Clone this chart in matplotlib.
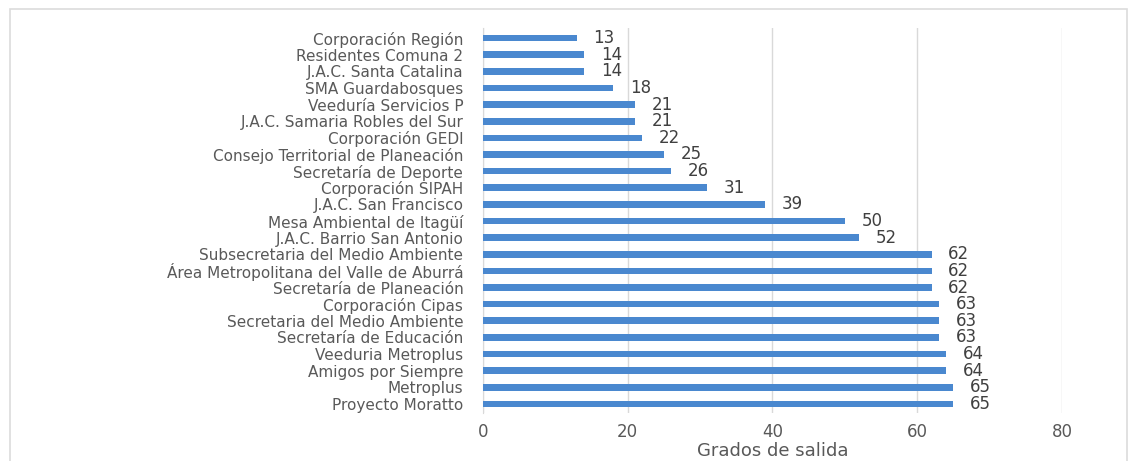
import matplotlib.pyplot as plt
from matplotlib.patches import Rectangle

# datos: grados de salida por actor (orden de arriba hacia abajo)
actores = [
    "Corporación Región",
    "Residentes Comuna 2",
    "J.A.C. Santa Catalina",
    "SMA Guardabosques",
    "Veeduría Servicios P",
    "J.A.C. Samaria Robles del Sur",
    "Corporación GEDI",
    "Consejo Territorial de Planeación",
    "Secretaría de Deporte",
    "Corporación SIPAH",
    "J.A.C. San Francisco",
    "Mesa Ambiental de Itagüí",
    "J.A.C. Barrio San Antonio",
    "Subsecretaria del Medio Ambiente",
    "Área Metropolitana del Valle de Aburrá",
    "Secretaría de Planeación",
    "Corporación Cipas",
    "Secretaria del Medio Ambiente",
    "Secretaría de Educación",
    "Veeduria Metroplus",
    "Amigos por Siempre",
    "Metroplus",
    "Proyecto Moratto",
]
grados = [13, 14, 14, 18, 21, 21, 22, 25, 26, 31, 39, 50, 52,
          62, 62, 62, 63, 63, 63, 64, 64, 65, 65]
x_ticks = [0, 20, 40, 60, 80]

bar_color = "#4a88cf"
text_color = "#595959"
grid_color = "#d9d9d9"

fig = plt.figure(figsize=(11.28, 4.61), dpi=100)
ax = fig.add_axes([0.428, 0.104, 0.5135, 0.835])

pos = list(range(len(actores)))
ax.barh(pos, grados, height=0.4, color=bar_color, zorder=3)

for y, v in zip(pos, grados):
    ax.annotate(str(v), (v, y), xytext=(12, 0), textcoords="offset points",
                va="center", ha="left", fontsize=12, color="#404040")

ax.set_xlim(0, 80)
ax.set_ylim(len(actores) - 0.45, -0.6)
ax.set_yticks(pos)
ax.set_yticklabels(actores, fontsize=11, color=text_color)
ax.set_xticks(x_ticks)
ax.set_xticklabels([str(t) for t in x_ticks], fontsize=12, color=text_color)
ax.tick_params(axis="y", length=0, pad=14)
ax.tick_params(axis="x", length=0, pad=7)
ax.set_xlabel("Grados de salida", fontsize=13, color=text_color, labelpad=1)

ax.grid(axis="x", color=grid_color, linewidth=1, zorder=0)
for s in ["top", "right", "bottom"]:
    ax.spines[s].set_visible(False)
ax.spines["left"].set_color(grid_color)

# marco exterior
fig.patches.append(Rectangle((0.009, -0.02), 0.99, 1.0, transform=fig.transFigure,
                             fill=False, edgecolor="#dcdcdc", linewidth=1.2))

fig.savefig("out.png", dpi=100)
